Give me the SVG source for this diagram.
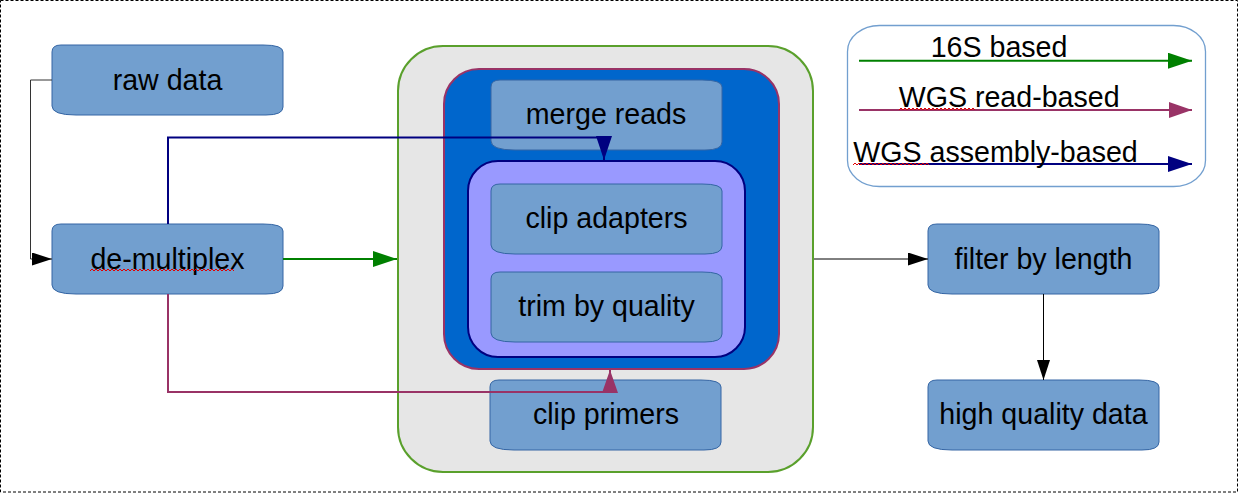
<svg xmlns="http://www.w3.org/2000/svg" xmlns:xlink="http://www.w3.org/1999/xlink" width="1238" height="493" viewBox="0 0 1238 493">
<style>
text{font-family:"Liberation Sans",Arial,sans-serif;font-size:28.6px;fill:#000}
.lbl{text-anchor:middle}
.node{fill:#729fcf;stroke:#3465a4;stroke-width:1}
.squig{fill:none;stroke:#e00000;stroke-width:1}
.conn{fill:none}
</style>
<defs>
<path id="nodeShape" d="M0,7 Q0,0 9,0 L211,0 Q231,0 231,7 L231,62 Q231,70 214,70 L24,70 Q0,70 0,61 Z"/>
<marker id="aBlack" markerUnits="userSpaceOnUse" markerWidth="21" markerHeight="14" refX="20" refY="6.5" orient="auto"><path d="M0,0 L20,6.5 L0,13 Z" fill="#000"/></marker>
<marker id="aGreen" markerUnits="userSpaceOnUse" markerWidth="25" markerHeight="17" refX="24" refY="8" orient="auto"><path d="M0,0 L24,8 L0,16 Z" fill="#008000"/></marker>
<marker id="aMaroon" markerUnits="userSpaceOnUse" markerWidth="25" markerHeight="17" refX="23" refY="8" orient="auto"><path d="M0,0 L23,8 L0,16 Z" fill="#993366"/></marker>
<marker id="aNavy" markerUnits="userSpaceOnUse" markerWidth="25" markerHeight="17" refX="24" refY="8" orient="auto"><path d="M0,0 L24,8 L0,16 Z" fill="#000080"/></marker>
</defs>

<rect x="0.5" y="0.5" width="1237" height="491.5" fill="#fff" stroke="#000" stroke-width="1" stroke-dasharray="3,2"/>

<g id="group-16s">
<rect x="398" y="46" width="415" height="426" rx="45" ry="45" fill="#e6e6e6" stroke="#5aa02c" stroke-width="2"/>
</g>
<g id="group-wgs-read">
<rect x="444" y="69" width="335" height="300" rx="35" ry="35" fill="#0066cc" stroke="#993366" stroke-width="2"/>
</g>
<g id="group-wgs-assembly">
<rect x="468" y="161" width="277" height="196" rx="30" ry="30" fill="#9999ff" stroke="#000080" stroke-width="2"/>
</g>

<g id="raw-data"><use xlink:href="#nodeShape" class="node" x="52" y="45"/><text class="lbl" x="167.5" y="90">raw data</text></g>
<g id="de-multiplex"><use xlink:href="#nodeShape" class="node" x="52" y="224"/><text class="lbl" x="167.5" y="269">de-multiplex</text>
<path class="squig" d="M90,271 l2,-2 2,2 2,-2 2,2 2,-2 2,2 2,-2 2,2 2,-2 2,2 2,-2 2,2 2,-2 2,2 2,-2 2,2 2,-2 2,2 2,-2 2,2 2,-2 2,2 2,-2 2,2 2,-2 2,2 2,-2 2,2 2,-2 2,2 2,-2 2,2 2,-2 2,2 2,-2 2,2 2,-2 2,2 2,-2 2,2 2,-2 2,2 2,-2 2,2 2,-2 2,2 2,-2 2,2 2,-2 2,2 2,-2 2,2 2,-2 2,2 2,-2 2,2 2,-2 2,2 2,-2 2,2 2,-2 2,2 2,-2 2,2 2,-2 2,2 2,-2 2,2 2,-2 2,2 2,-2 2,2"/></g>
<g id="merge-reads"><use xlink:href="#nodeShape" class="node" x="491" y="80"/><text class="lbl" x="606" y="124">merge reads</text></g>
<g id="clip-adapters"><use xlink:href="#nodeShape" class="node" x="491" y="184"/><text class="lbl" x="606.5" y="228">clip adapters</text></g>
<g id="trim-by-quality"><use xlink:href="#nodeShape" class="node" x="491" y="272"/><text class="lbl" x="606.5" y="315.5">trim by quality</text></g>
<g id="clip-primers"><use xlink:href="#nodeShape" class="node" x="490" y="380"/><text class="lbl" x="606" y="424">clip primers</text></g>
<g id="filter-by-length"><use xlink:href="#nodeShape" class="node" x="928" y="224"/><text class="lbl" x="1043.5" y="268.5">filter by length</text></g>
<g id="high-quality-data"><use xlink:href="#nodeShape" class="node" x="928" y="380"/><text class="lbl" x="1043.5" y="424">high quality data</text></g>

<g id="legend">
<rect x="847.5" y="25.5" width="358" height="161" rx="32" ry="26" fill="#fff" stroke="#729fcf" stroke-width="1.3"/>
<line x1="859" y1="60.7" x2="1192" y2="60.7" stroke="#008000" stroke-width="2" marker-end="url(#aGreen)"/>
<text x="930.7" y="57.3">16S based</text>
<line x1="859" y1="110" x2="1192" y2="110" stroke="#993366" stroke-width="2" marker-end="url(#aMaroon)"/>
<text x="898.7" y="107.3">WGS read-based</text>
<path class="squig" d="M899,110 l2,-2 2,2 2,-2 2,2 2,-2 2,2 2,-2 2,2 2,-2 2,2 2,-2 2,2 2,-2 2,2 2,-2 2,2 2,-2 2,2 2,-2 2,2 2,-2 2,2 2,-2 2,2 2,-2 2,2 2,-2 2,2 2,-2 2,2 2,-2 2,2 2,-2 2,2 2,-2 2,2 2,-2 2,2"/>
<line x1="859" y1="164" x2="1192" y2="164" stroke="#000080" stroke-width="2" marker-end="url(#aNavy)"/>
<text x="853.3" y="161.7">WGS assembly-based</text>
<path class="squig" d="M853,165 l2,-2 2,2 2,-2 2,2 2,-2 2,2 2,-2 2,2 2,-2 2,2 2,-2 2,2 2,-2 2,2 2,-2 2,2 2,-2 2,2 2,-2 2,2 2,-2 2,2 2,-2 2,2 2,-2 2,2 2,-2 2,2 2,-2 2,2 2,-2 2,2 2,-2 2,2 2,-2 2,2 2,-2 2,2"/>
</g>

<g id="connectors">
<path class="conn" d="M52,80 H30.5 V259 H52" stroke="#333" stroke-width="1" marker-end="url(#aBlack)"/>
<path class="conn" d="M283,259 H397" stroke="#008000" stroke-width="2" marker-end="url(#aGreen)"/>
<path class="conn" d="M168,224 V137.5 H604 V160" stroke="#000080" stroke-width="2" marker-end="url(#aNavy)"/>
<path class="conn" d="M168,294 V392 H610 V370" stroke="#993366" stroke-width="2" marker-end="url(#aMaroon)"/>
<path class="conn" d="M814,259 H928" stroke="#000" stroke-width="1" marker-end="url(#aBlack)"/>
<path class="conn" d="M1043.5,294 V380" stroke="#000" stroke-width="1" marker-end="url(#aBlack)"/>
</g>
</svg>
